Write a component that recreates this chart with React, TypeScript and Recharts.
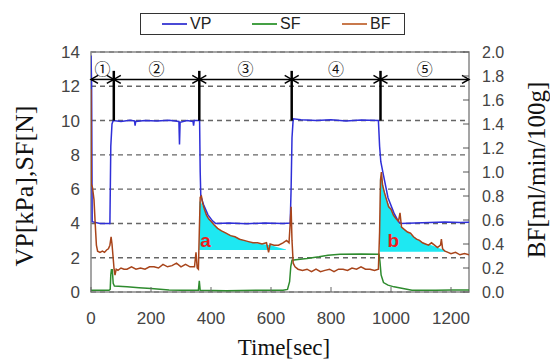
import {
  ComposedChart,
  Line,
  Area,
  XAxis,
  YAxis,
  CartesianGrid,
  ReferenceLine,
  ReferenceDot,
  ReferenceArea,
} from 'recharts';

// VP [kPa] and SF [N] are on the left axis, BF [ml/min/100g] on the right one
const vpTime = [0, 2, 4, 30, 63, 66, 70, 74, 100, 130, 145, 147, 149, 180, 220, 260, 293, 295, 297, 320, 340, 342, 344, 362, 364, 366, 375, 390, 405, 415, 460, 520, 580, 640, 664, 667, 670, 674, 700, 750, 800, 850, 900, 958, 962, 966, 975, 990, 1010, 1025, 1033, 1080, 1130, 1180, 1230, 1260];
const vpValue = [13.8, 12.2, 4.1, 4.0, 4.0, 8.5, 9.8, 10.0, 9.95, 10.02, 9.98, 9.7, 9.95, 10.0, 9.97, 10.02, 9.95, 8.6, 9.9, 10.0, 9.95, 9.7, 10.0, 10.0, 7.0, 5.6, 5.1, 4.5, 4.15, 4.0, 4.02, 3.98, 4.03, 4.0, 4.02, 6.0, 9.0, 10.1, 10.05, 10.0, 10.05, 9.98, 10.04, 10.0, 8.5, 7.6, 6.8, 5.5, 4.6, 4.1, 4.0, 4.03, 4.05, 4.08, 4.05, 4.07];

const sfTime = [0, 60, 64, 66, 68, 71, 74, 78, 120, 160, 200, 260, 300, 358, 361, 364, 450, 550, 640, 655, 662, 666, 670, 690, 720, 760, 790, 830, 900, 960, 963, 967, 975, 990, 1010, 1040, 1070, 1150, 1200, 1260];
const sfValue = [0.1, 0.1, 0.15, 1.0, 1.3, 1.3, 0.5, 0.35, 0.3, 0.25, 0.2, 0.12, 0.1, 0.1, 0.65, 0.1, 0.08, 0.1, 0.1, 0.15, 0.6, 1.5, 1.85, 1.9, 1.95, 2.05, 2.15, 2.2, 2.22, 2.2, 1.8, 1.0, 0.55, 0.4, 0.3, 0.2, 0.1, 0.1, 0.12, 0.12];

const bfTime = [0, 1, 5, 10, 14, 18, 22, 30, 38, 45, 52, 58, 63, 67, 70, 73, 77, 80, 84, 90, 100, 110, 120, 135, 150, 165, 180, 195, 210, 225, 240, 255, 270, 285, 300, 315, 330, 345, 350, 354, 358, 361, 364, 368, 372, 378, 385, 392, 400, 410, 422, 435, 450, 465, 480, 495, 510, 525, 540, 555, 570, 585, 592, 597, 610, 625, 640, 652, 660, 664, 667, 670, 674, 680, 690, 705, 720, 735, 750, 765, 780, 795, 810, 825, 840, 855, 870, 885, 900, 915, 930, 945, 958, 962, 965, 968, 972, 978, 985, 992, 1000, 1008, 1017, 1025, 1030, 1035, 1045, 1055, 1065, 1075, 1085, 1095, 1105, 1115, 1125, 1135, 1145, 1155, 1165, 1168, 1172, 1180, 1190, 1200, 1215, 1230, 1245, 1260];
const bfValue = [1.69, 0.9, 0.87, 0.77, 0.57, 0.39, 0.34, 0.33, 0.34, 0.33, 0.35, 0.36, 0.39, 0.46, 0.4, 0.31, 0.19, 0.14, 0.19, 0.18, 0.2, 0.19, 0.19, 0.21, 0.19, 0.2, 0.19, 0.21, 0.21, 0.2, 0.23, 0.21, 0.22, 0.24, 0.21, 0.23, 0.21, 0.21, 0.33, 0.2, 0.19, 0.5, 0.79, 0.8, 0.74, 0.69, 0.64, 0.61, 0.59, 0.56, 0.53, 0.51, 0.49, 0.47, 0.46, 0.44, 0.43, 0.42, 0.41, 0.41, 0.4, 0.41, 0.33, 0.4, 0.39, 0.39, 0.41, 0.43, 0.41, 0.57, 0.71, 0.43, 0.24, 0.21, 0.19, 0.18, 0.19, 0.17, 0.19, 0.17, 0.18, 0.19, 0.17, 0.19, 0.19, 0.18, 0.2, 0.19, 0.21, 0.19, 0.19, 0.18, 0.19, 0.5, 0.93, 1.0, 0.89, 0.83, 0.77, 0.71, 0.69, 0.64, 0.61, 0.59, 0.66, 0.54, 0.52, 0.5, 0.49, 0.46, 0.44, 0.43, 0.41, 0.4, 0.39, 0.41, 0.39, 0.37, 0.39, 0.44, 0.36, 0.34, 0.33, 0.32, 0.33, 0.31, 0.32, 0.31];

// cyan regions under BF (right axis units)
const fillATime = [361, 364, 372, 385, 400, 422, 450, 480, 510, 540, 570, 600, 625, 650];
const fillATop = [0.75, 0.76, 0.72, 0.64, 0.59, 0.53, 0.49, 0.46, 0.43, 0.41, 0.4, 0.39, 0.37, 0.355];
const fillABase = 0.35;
const fillBTime = [963, 968, 975, 985, 1000, 1017, 1035, 1055, 1075, 1095, 1115, 1135, 1155, 1175, 1190];
const fillBTop = [0.95, 0.98, 0.87, 0.77, 0.69, 0.61, 0.54, 0.5, 0.46, 0.43, 0.4, 0.39, 0.37, 0.35, 0.335];
const fillBBase = 0.335;

const phaseEdges = [0, 76, 361, 669, 965, 1260];
const phaseLabels = ['①', '②', '③', '④', '⑤'];
const arrowLevel = 12.4;
const markerTop = 12.9;
const markerBottom = 10;

const marks = [
  { text: 'a', t: 364, y: 2.62 },
  { text: 'b', t: 988, y: 2.65 },
];

const leftTicks = [0, 2, 4, 6, 8, 10, 12, 14];
const rightTicks = [0, 0.2, 0.4, 0.6, 0.8, 1.0, 1.2, 1.4, 1.6, 1.8, 2.0];
const timeTicks = [0, 200, 400, 600, 800, 1000, 1200];

const series = [
  { name: 'VP', color: '#2f2fd8', key: '#4a4ad6' },
  { name: 'SF', color: '#2e8b2e', key: '#45a045' },
  { name: 'BF', color: '#a8441a', key: '#c8794c' },
];

const vpData = vpTime.map((t, i) => ({ t, v: vpValue[i] }));
const sfData = sfTime.map((t, i) => ({ t, v: sfValue[i] }));
const bfData = bfTime.map((t, i) => ({ t, v: bfValue[i] }));
const fillAData = fillATime.map((t, i) => ({ t, range: [fillABase, fillATop[i]] }));
const fillBData = fillBTime.map((t, i) => ({ t, range: [fillBBase, fillBTop[i]] }));

const sans = 'Liberation Sans, Arial, sans-serif';
const serif = 'Liberation Serif, Times New Roman, serif';

function arrowShape(label: string) {
  return (props: any) => {
    const { x1, y1, x2 } = props;
    const h = 4;
    const w = 7;
    return (
      <g>
        <line x1={x1} y1={y1} x2={x2} y2={y1} stroke="#000" strokeWidth={1.5} />
        <polyline points={`${x1 + w},${y1 - h} ${x1},${y1} ${x1 + w},${y1 + h}`} fill="none" stroke="#000" strokeWidth={1.5} />
        <polyline points={`${x2 - w},${y1 - h} ${x2},${y1} ${x2 - w},${y1 + h}`} fill="none" stroke="#000" strokeWidth={1.5} />
        <text x={(x1 + x2) / 2} y={y1 - 11} textAnchor="middle" dominantBaseline="central" fontSize={16} fontFamily="Noto Sans CJK JP, DejaVu Sans, sans-serif" fill="#111">
          {label}
        </text>
      </g>
    );
  };
}

function markShape(text: string) {
  return (props: any) => (
    <text x={props.cx} y={props.cy} fontSize={19} fontWeight="bold" fontFamily={sans} fill="#ee1c1c">
      {text}
    </text>
  );
}

export default function App() {
  return (
    <div style={{ position: 'relative', width: 550, height: 360, background: '#fff' }}>
      <style>{'body{margin:0}'}</style>
      <ComposedChart width={550} height={360} margin={{ top: 52, right: 21, bottom: 28, left: 31 }}>
        <CartesianGrid yAxisId="left" vertical={false} stroke="#666" strokeDasharray="5 4" strokeWidth={1.4} />
        <XAxis
          dataKey="t"
          type="number"
          domain={[0, 1260]}
          ticks={timeTicks}
          allowDataOverflow
          height={40}
          axisLine={false}
          tickSize={-5}
          tickMargin={25}
          tickLine={{ stroke: '#666' }}
          tick={{ fontSize: 17, fill: '#444', fontFamily: sans }}
        />
        <YAxis
          yAxisId="left"
          type="number"
          domain={[0, 14]}
          ticks={leftTicks}
          width={60}
          axisLine={false}
          tickLine={false}
          tickMargin={5}
          tick={{ fontSize: 17, fill: '#444', fontFamily: sans }}
        />
        <YAxis
          yAxisId="right"
          orientation="right"
          type="number"
          domain={[0, 2]}
          ticks={rightTicks}
          width={60}
          axisLine={false}
          tickSize={-6}
          tickMargin={19}
          tickLine={{ stroke: '#555' }}
          tickFormatter={(v) => v.toFixed(1)}
          tick={{ fontSize: 16, fill: '#444', fontFamily: sans }}
        />
        <Area data={fillAData} dataKey="range" yAxisId="right" type="linear" stroke="none" fill="#1ee8f2" fillOpacity={1} isAnimationActive={false} />
        <Area data={fillBData} dataKey="range" yAxisId="right" type="linear" stroke="none" fill="#1ee8f2" fillOpacity={1} isAnimationActive={false} />
        <Line data={sfData} dataKey="v" yAxisId="left" type="linear" stroke={series[1].color} strokeWidth={1.5} dot={false} isAnimationActive={false} />
        <Line data={vpData} dataKey="v" yAxisId="left" type="linear" stroke={series[0].color} strokeWidth={1.5} dot={false} isAnimationActive={false} />
        <Line data={bfData} dataKey="v" yAxisId="right" type="linear" stroke={series[2].color} strokeWidth={1.5} dot={false} isAnimationActive={false} />
        <ReferenceArea yAxisId="left" x1={0} x2={1260} y1={0} y2={14} fill="none" stroke="#888" strokeWidth={1.5} />
        {phaseEdges.slice(1, -1).map((edge) => (
          <ReferenceLine
            key={`edge-${edge}`}
            yAxisId="left"
            segment={[{ x: edge, y: markerBottom }, { x: edge, y: markerTop }]}
            stroke="#000"
            strokeWidth={2.5}
          />
        ))}
        {phaseLabels.map((label, i) => (
          <ReferenceLine
            key={`phase-${i}`}
            yAxisId="left"
            segment={[{ x: phaseEdges[i], y: arrowLevel }, { x: phaseEdges[i + 1], y: arrowLevel }]}
            shape={arrowShape(label)}
          />
        ))}
        {marks.map((m) => (
          <ReferenceDot key={m.text} yAxisId="left" x={m.t} y={m.y} r={0} shape={markShape(m.text)} />
        ))}
      </ComposedChart>

      <div
        style={{
          position: 'absolute', left: 140, top: 13, width: 265, height: 22, boxSizing: 'border-box',
          border: '1.5px solid #333', fontFamily: sans, fontSize: 16, color: '#222',
        }}
      >
        {series.map((s, i) => (
          <div key={s.name} style={{ position: 'absolute', left: 21 + i * 90, top: 0, height: 19, display: 'flex', alignItems: 'center' }}>
            <svg width={25} height={4} style={{ marginRight: 3 }}>
              <line x1={0} y1={2} x2={25} y2={2} stroke={s.key} strokeWidth={2} />
            </svg>
            <span>{s.name}</span>
          </div>
        ))}
      </div>

      <div style={{ position: 'absolute', left: 25, top: 186, transform: 'translate(-50%, -50%) rotate(-90deg)', whiteSpace: 'nowrap', fontFamily: serif, fontSize: 26, color: '#111' }}>
        VP[kPa],SF[N]
      </div>
      <div style={{ position: 'absolute', left: 537, top: 170, transform: 'translate(-50%, -50%) rotate(-90deg)', whiteSpace: 'nowrap', fontFamily: serif, fontSize: 25, color: '#111' }}>
        BF[ml/min/100g]
      </div>
      <div style={{ position: 'absolute', left: 284, top: 348, transform: 'translate(-50%, -50%)', whiteSpace: 'nowrap', fontFamily: serif, fontSize: 23, color: '#111' }}>
        Time[sec]
      </div>
    </div>
  );
}
